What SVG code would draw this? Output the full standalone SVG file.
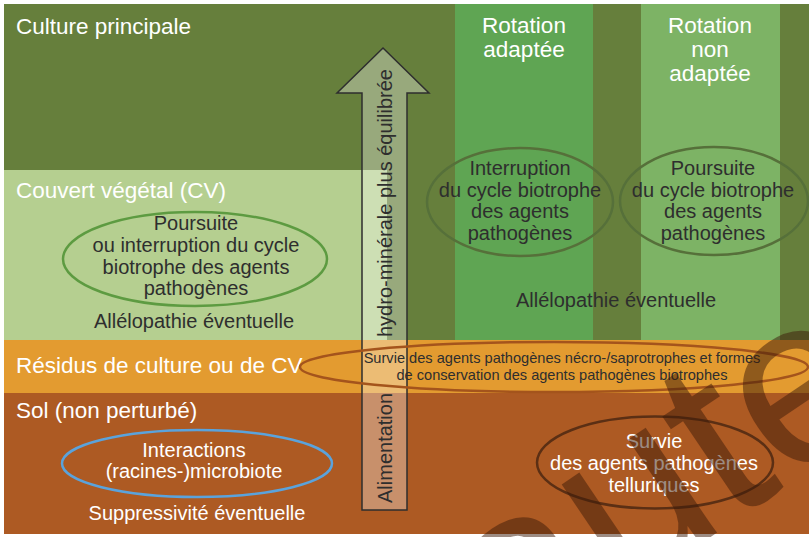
<svg xmlns="http://www.w3.org/2000/svg" width="809" height="537" viewBox="0 0 809 537">
<style>
.h{font-family:"Liberation Sans",Arial,sans-serif;font-size:22.5px;fill:#ffffff}
.t{font-family:"Liberation Sans",Arial,sans-serif;font-size:20px;fill:#2e2e2e}
.w{font-family:"Liberation Sans",Arial,sans-serif;font-size:20px;fill:#ffffff}
.s{font-family:"Liberation Sans",Arial,sans-serif;font-size:14.6px;fill:#2e2e2e}
.e{fill:none;stroke-width:2.5}
</style>
<rect width="809" height="537" fill="#ffffff"/>
<g id="bands">
<rect x="4" y="4" width="805" height="336" fill="#667f3c"/>
<rect x="4" y="170" width="383" height="170" fill="#b5cf90"/>
<rect x="455" y="4" width="138" height="336" fill="#5fa553"/>
<rect x="641" y="4" width="139" height="336" fill="#7db365"/>
<rect x="4" y="340" width="805" height="53" fill="#e39b30"/>
<rect x="4" y="393" width="805" height="141" fill="#ad5a23"/>
</g>
<g id="labels">
<text class="h" x="16" y="34">Culture principale</text>
<text class="h" x="524" y="33" text-anchor="middle">Rotation</text>
<text class="h" x="524" y="57" text-anchor="middle">adaptée</text>
<text class="h" x="710" y="33" text-anchor="middle">Rotation</text>
<text class="h" x="710" y="57" text-anchor="middle">non</text>
<text class="h" x="710" y="81" text-anchor="middle">adaptée</text>
<text class="h" x="16" y="198">Couvert végétal (CV)</text>
<text class="h" x="16" y="373">Résidus de culture ou de CV</text>
<text class="h" x="16" y="418">Sol (non perturbé)</text>
</g>
<g id="cv-cycle">
<ellipse class="e" cx="195" cy="259" rx="132" ry="47" stroke="#5d9b41"/>
<text class="t" text-anchor="middle"><tspan x="196" y="230">Poursuite</tspan><tspan x="196" y="252">ou interruption du cycle</tspan><tspan x="196" y="274">biotrophe des agents</tspan><tspan x="196" y="295">pathogènes</tspan></text>
<text class="t" x="194" y="328" text-anchor="middle">Allélopathie éventuelle</text>
</g>
<g id="rot-adaptee">
<ellipse class="e" cx="520" cy="202" rx="93" ry="54" stroke="#56703a" stroke-width="2"/>
<text class="t" text-anchor="middle"><tspan x="520" y="175">Interruption</tspan><tspan x="520" y="197">du cycle biotrophe</tspan><tspan x="520" y="218">des agents</tspan><tspan x="520" y="240">pathogènes</tspan></text>
</g>
<g id="rot-non-adaptee">
<ellipse class="e" cx="714" cy="201" rx="94" ry="54" stroke="#56703a" stroke-width="2"/>
<text class="t" text-anchor="middle"><tspan x="713" y="175">Poursuite</tspan><tspan x="713" y="197">du cycle biotrophe</tspan><tspan x="713" y="218">des agents</tspan><tspan x="713" y="240">pathogènes</tspan></text>
</g>
<text class="t" x="616" y="307" text-anchor="middle">Allélopathie éventuelle</text>
<g id="arrow">
<polygon points="383,48 429,93 407,93 407,510 362,510 362,93 337,93" fill="#ffffff" fill-opacity="0.33" stroke="#2e2e2e" stroke-width="1.5"/>
<text class="t" transform="translate(392,337) rotate(-90)">hydro-minérale plus équilibrée</text>
<text class="t" transform="translate(392,503) rotate(-90)">Alimentation</text>
</g>
<g id="residus">
<ellipse class="e" cx="554" cy="367" rx="254" ry="25" stroke="#a4541c"/>
<text class="s" text-anchor="middle"><tspan x="562" y="363">Survie des agents pathogènes nécro-/saprotrophes et formes</tspan><tspan x="562" y="380">de conservation des agents pathogènes biotrophes</tspan></text>
</g>
<g id="sol-microbiote">
<ellipse class="e" cx="197" cy="463.5" rx="135" ry="33.5" stroke="#5aa3dc"/>
<text class="w" text-anchor="middle"><tspan x="194" y="457">Interactions</tspan><tspan x="194" y="478">(racines-)microbiote</tspan></text>
<text class="w" x="197" y="520" text-anchor="middle">Suppressivité éventuelle</text>
</g>
<g id="sol-telluriques">
<ellipse class="e" cx="655" cy="462.5" rx="118" ry="46" stroke="#5b2f14" stroke-width="2"/>
<text class="w" text-anchor="middle"><tspan x="654" y="448">Survie</tspan><tspan x="654" y="470">des agents pathogènes</tspan><tspan x="654" y="492">telluriques</tspan></text>
</g>
<text transform="translate(509,673) rotate(-34)" font-family="Liberation Sans,Arial,sans-serif" font-size="240" fill="#3c1a08" fill-opacity="0.5">auteur</text>
</svg>
